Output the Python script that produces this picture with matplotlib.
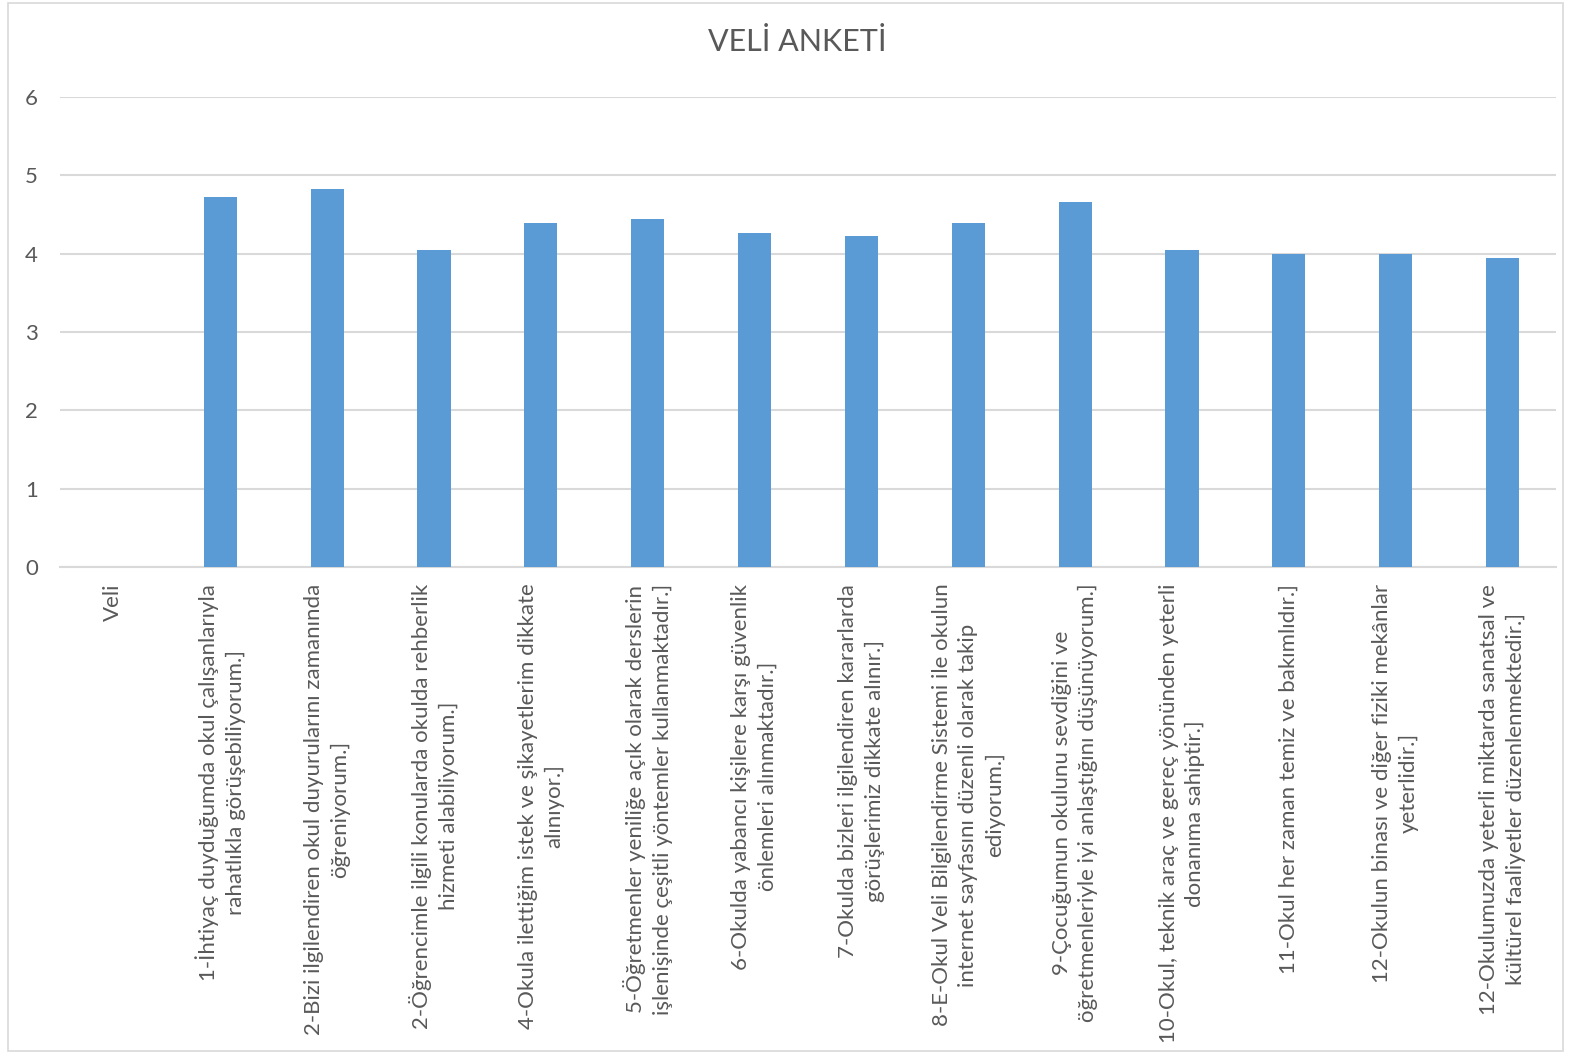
import matplotlib
matplotlib.use("Agg")
import matplotlib.pyplot as plt
from matplotlib.patches import Rectangle

categories = [
    "Veli",
    "1-İhtiyaç duyduğumda okul çalışanlarıyla\nrahatlıkla görüşebiliyorum.]",
    "2-Bizi ilgilendiren okul duyurularını zamanında\nöğreniyorum.]",
    "2-Öğrencimle ilgili konularda okulda rehberlik\nhizmeti alabiliyorum.]",
    "4-Okula ilettiğim istek ve şikayetlerim dikkate\nalınıyor.]",
    "5-Öğretmenler yeniliğe açık olarak derslerin\nişlenişinde çeşitli yöntemler kullanmaktadır.]",
    "6-Okulda yabancı kişilere karşı güvenlik\nönlemleri alınmaktadır.]",
    "7-Okulda bizleri ilgilendiren kararlarda\ngörüşlerimiz dikkate alınır.]",
    "8-E-Okul Veli Bilgilendirme Sistemi ile okulun\ninternet sayfasını düzenli olarak takip\nediyorum.]",
    "9-Çocuğumun okulunu sevdiğini ve\nöğretmenleriyle iyi anlaştığını düşünüyorum.]",
    "10-Okul, teknik araç ve gereç yönünden yeterli\ndonanıma sahiptir.]",
    "11-Okul her zaman temiz ve bakımlıdır.]",
    "12-Okulun binası ve diğer fiziki mekânlar\nyeterlidir.]",
    "12-Okulumuzda yeterli miktarda sanatsal ve\nkültürel faaliyetler düzenlenmektedir.]",
]
values = [0, 4.72, 4.83, 4.05, 4.39, 4.44, 4.27, 4.22, 4.39, 4.66, 4.05, 4.0, 4.0, 3.94]
yticks = [0, 1, 2, 3, 4, 5, 6]
title = "VELİ ANKETİ"

TEXT = "#595959"
GRID = "#d9d9d9"
BAR = "#5B9BD5"
plt.rcParams['font.family'] = ['Lato', 'DejaVu Sans']

W, H = 1573, 1058
fig = plt.figure(figsize=(W / 100, H / 100), dpi=100)
fig.patches.append(Rectangle((8 / W, 1 - 1051 / H), (1563 - 8) / W, (1051 - 3) / H,
                             transform=fig.transFigure, fill=False, edgecolor=GRID, lw=1.2))

ax = fig.add_axes([60 / W, 1 - 567 / H, (1556 - 60) / W, (567 - 97) / H])
x = list(range(len(categories)))
ax.bar(x, values, width=0.31, color=BAR, zorder=3)
ax.set_xlim(-0.5, len(categories) - 0.5)
ax.set_ylim(0, 6)
ax.set_yticks(yticks)
ax.yaxis.grid(True, color=GRID, lw=1.5, zorder=0)
for s in ["top", "right", "left"]:
    ax.spines[s].set_visible(False)
ax.spines["bottom"].set_color(GRID)
ax.spines["bottom"].set_linewidth(1.5)
ax.tick_params(axis="y", length=0, pad=16, labelsize=16, labelcolor=TEXT)
ax.tick_params(axis="x", length=0, pad=12)
ax.set_xticks(x)
ax.set_xticklabels(categories, rotation=90, fontsize=16, color=TEXT,
                   ha="center", va="top", multialignment="center", linespacing=1.4)

fig.text(797 / W, 1 - 42 / H, title, ha="center", va="center", fontsize=22, color=TEXT)

fig.savefig("out.png", dpi=100)
